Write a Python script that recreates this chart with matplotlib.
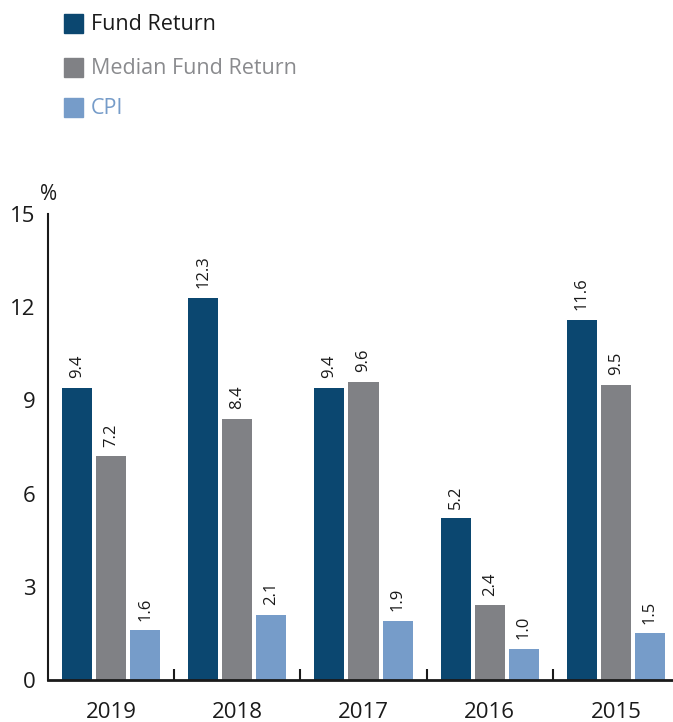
import matplotlib
matplotlib.use("Agg")
import matplotlib.pyplot as plt
import numpy as np

years = ["2019", "2018", "2017", "2016", "2015"]
fund = [9.4, 12.3, 9.4, 5.2, 11.6]
median = [7.2, 8.4, 9.6, 2.4, 9.5]
cpi = [1.6, 2.1, 1.9, 1.0, 1.5]
series_names = ["Fund Return", "Median Fund Return", "CPI"]
colors = ["#0b4770", "#808185", "#769cc9"]
text_colors = ["#1a1a1a", "#8a8b8e", "#769cc9"]

plt.rcParams['font.family'] = ['Open Sans', 'DejaVu Sans']

fig = plt.figure(figsize=(6.73, 7.22), dpi=100)
ax = fig.add_axes([48/673, 1-680/722, 631/673, (680-214)/722])

x = np.arange(len(years))
w = 0.238
off = 0.27
for i, (vals, c) in enumerate(zip([fund, median, cpi], colors)):
    pos = x + (i-1)*off
    ax.bar(pos, vals, width=w, color=c, zorder=2)
    for p, v in zip(pos, vals):
        ax.annotate(f"{v:.1f}", (p, v), xytext=(0, 7), textcoords="offset points",
                    rotation=90, ha="center", va="bottom", fontsize=12, color="#1a1a1a")

ax.set_xlim(-0.5, 4.5)
ax.set_ylim(0, 15)
ax.set_yticks([0, 3, 6, 9, 12, 15])
ax.tick_params(axis="y", length=0, labelsize=16, pad=9, colors="#1a1a1a")
ax.set_xticks(x)
ax.set_xticklabels(years)
ax.tick_params(axis="x", length=0, labelsize=16, pad=16, colors="#1a1a1a")
ax.set_xticks(np.arange(0.5, 4.5, 1), minor=True)
ax.tick_params(axis="x", which="minor", direction="in", length=8, width=1.5, color="#1a1a1a")
for s in ["top", "right"]:
    ax.spines[s].set_visible(False)
ax.spines["left"].set_linewidth(1.5)
ax.spines["bottom"].set_linewidth(2)
ax.spines["left"].set_color("#1a1a1a")
ax.spines["bottom"].set_color("#1a1a1a")

fig.text(40/673, 1-195/722, "%", fontsize=15, color="#1a1a1a", ha="left", va="center")

# legend
for i, (name, c, tc) in enumerate(zip(series_names, colors, text_colors)):
    yc = [24, 68, 108][i]
    fig.patches.append(plt.Rectangle((64/673, 1-(yc+9)/722), 19/673, 19/722,
                                     transform=fig.transFigure, color=c, figure=fig))
    fig.text(91/673, 1-yc/722, name, fontsize=15.5, color=tc, ha="left", va="center")

fig.savefig("out.png", dpi=100)
